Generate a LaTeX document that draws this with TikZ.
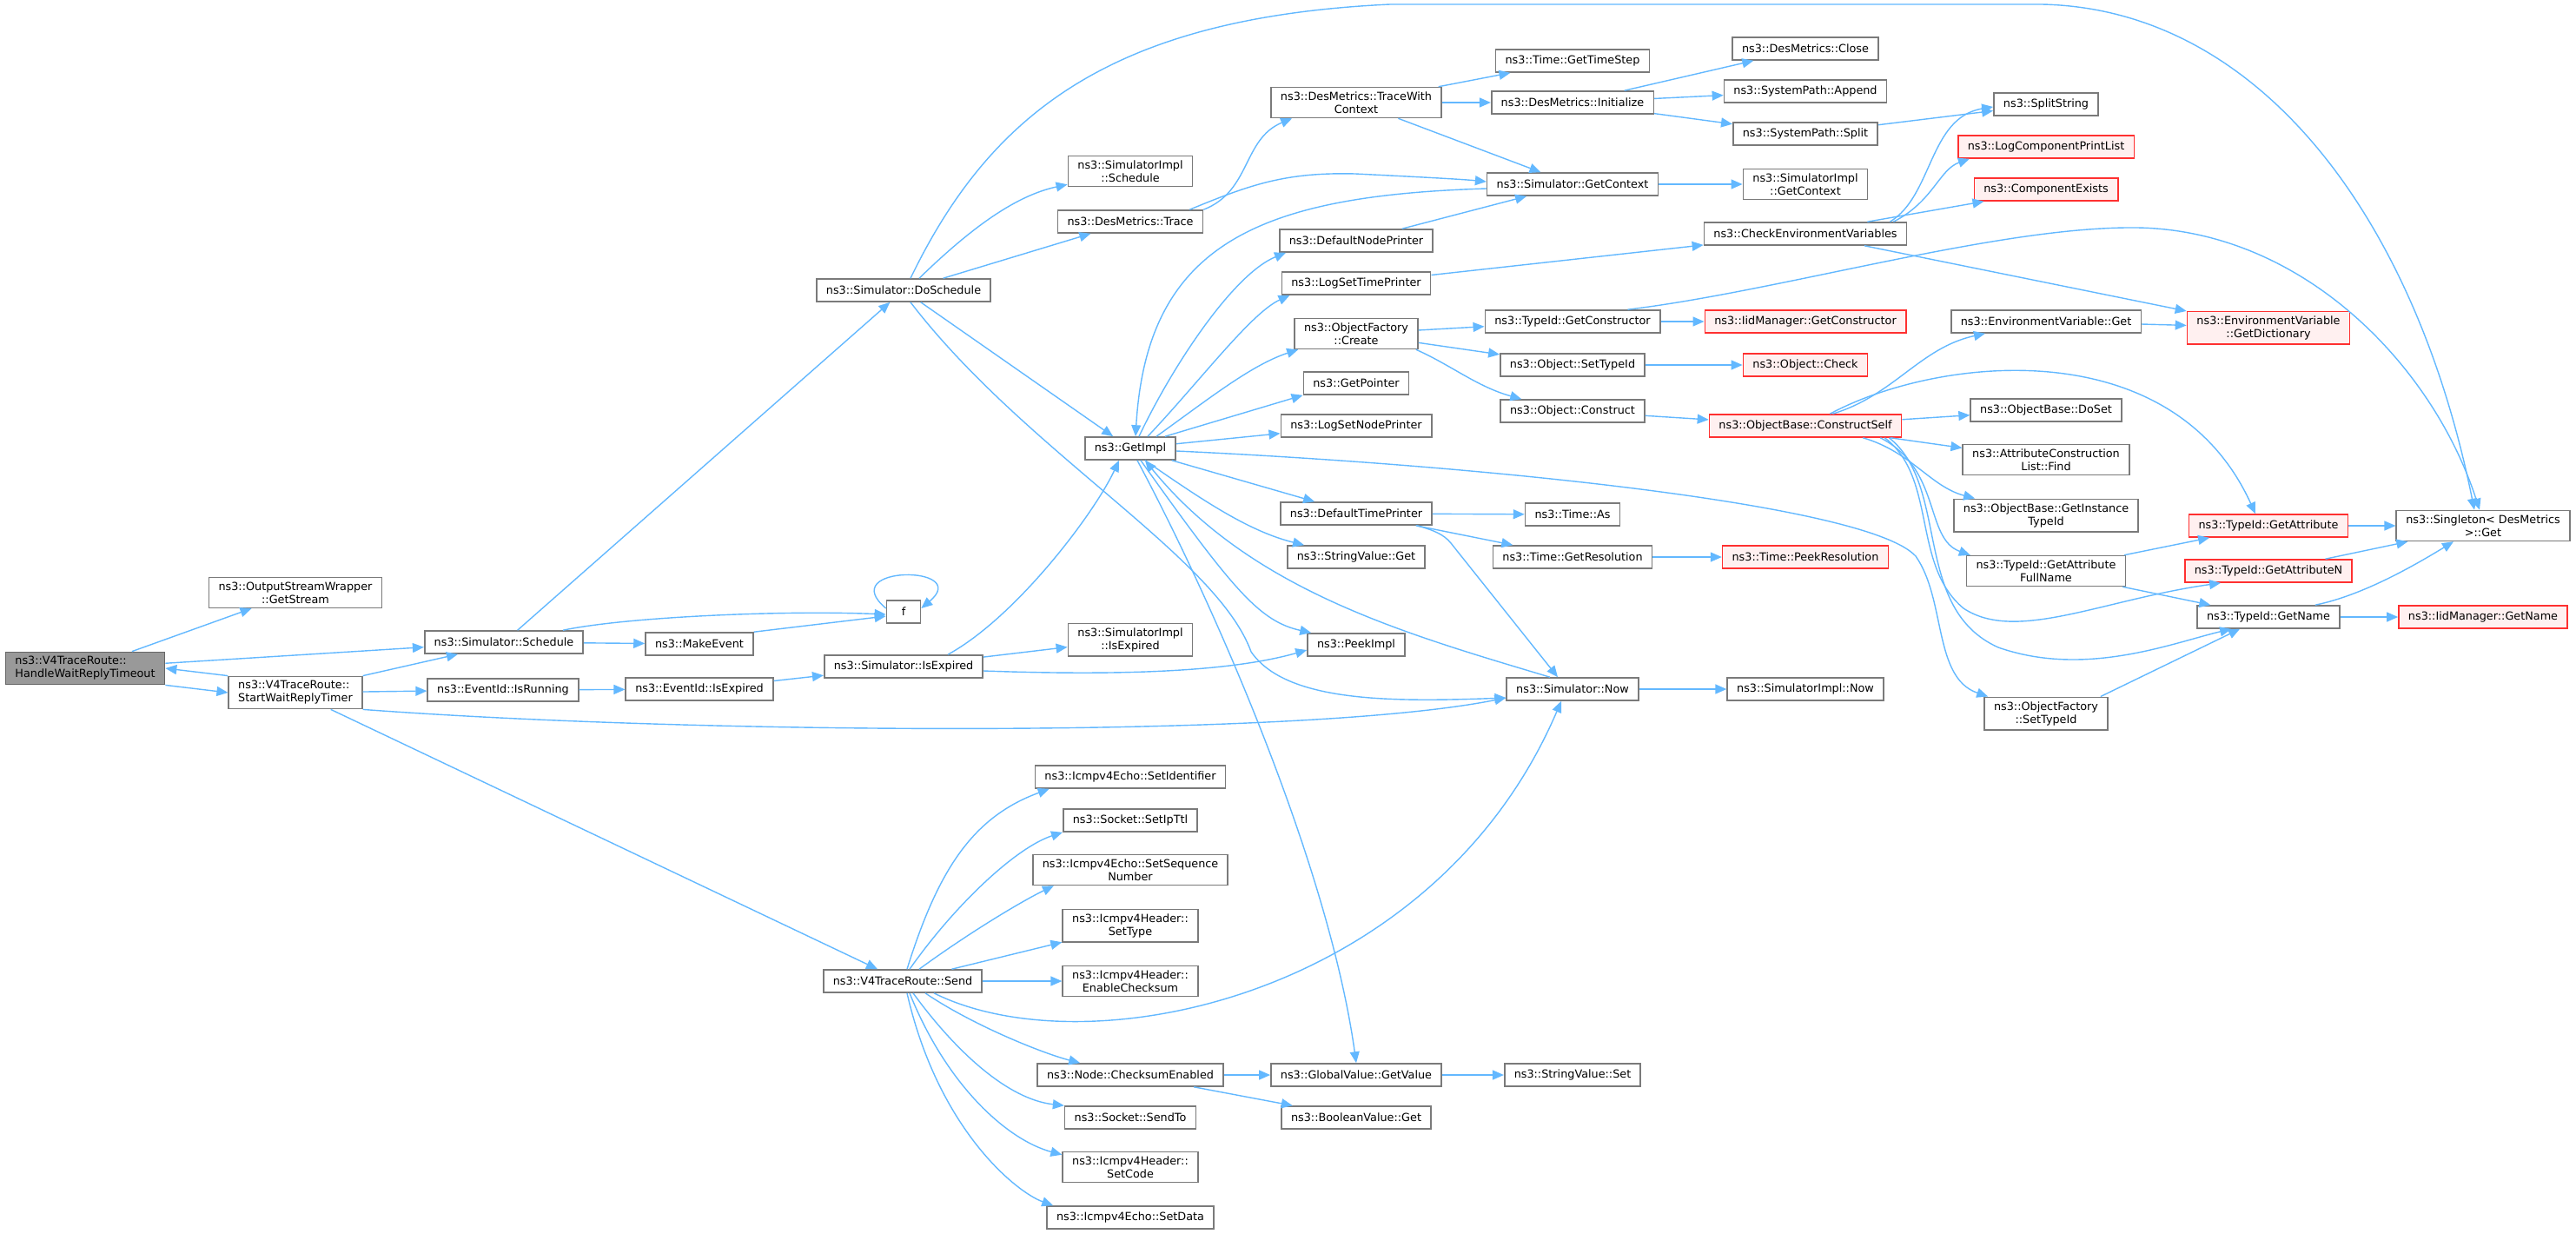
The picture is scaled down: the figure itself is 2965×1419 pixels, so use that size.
\documentclass[tikz,border=0pt]{standalone}
\usepackage{fontspec}
\usepackage{tikz}
\usetikzlibrary{arrows.meta, calc}
\newfontfamily\graphfont{DejaVu Sans}
\definecolor{edgeBlue}{HTML}{63B8FF}
\definecolor{boxGray}{HTML}{7A7A7A}
\definecolor{boxRed}{HTML}{FF3030}
\definecolor{redFill}{HTML}{FFF0F0}
\definecolor{startFill}{HTML}{999999}
\definecolor{startLine}{HTML}{666666}

\begin{document}
\begin{tikzpicture}[x=0.5pt, y=-0.5pt,
    func/.style={draw=boxGray, line width=0.8pt, fill=white, inner xsep=5.5pt, inner ysep=2.5pt,
      minimum height=13pt, align=center, font=\graphfont\fontsize{6.4}{7.5}\selectfont},
    funcRed/.style={func, draw=boxRed, fill=redFill},
    funcStart/.style={func, draw=startLine, fill=startFill, align=left},
    call/.style={draw=edgeBlue, line width=0.7pt, -{Triangle[length=6.5pt, width=5.5pt]}}]
    \useasboundingbox (0,0) rectangle (2965,1419);

    % Root and first callees
    \node[funcStart] (hwrt) at (98,769) {ns3::V4TraceRoute::\\HandleWaitReplyTimeout};
    \node[func] (osw) at (340,682) {ns3::OutputStreamWrapper\\::GetStream};
    \node[func, align=left] (swrt) at (340,797) {ns3::V4TraceRoute::\\StartWaitReplyTimer};
    \node[func] (sched) at (580,739) {ns3::Simulator::Schedule};
    \node[func] (isrun) at (579,794) {ns3::EventId::IsRunning};
    \node[func] (mkev) at (805,741) {ns3::MakeEvent};
    \node[func] (evexp) at (805,793) {ns3::EventId::IsExpired};

    % Simulator column
    \node[func] (dosch) at (1040,334) {ns3::Simulator::DoSchedule};
    \node[func, minimum width=19.5pt] (f) at (1040,704) {f};
    \node[func] (simexp) at (1040,767) {ns3::Simulator::IsExpired};
    \node[func] (send) at (1039,1129) {ns3::V4TraceRoute::Send};

    % GetImpl column
    \node[func] (impsch) at (1301,197) {ns3::SimulatorImpl\\::Schedule};
    \node[func] (trace) at (1301,255) {ns3::DesMetrics::Trace};
    \node[func] (getimpl) at (1301,516) {ns3::GetImpl};
    \node[func] (impexp) at (1301,736) {ns3::SimulatorImpl\\::IsExpired};
    \node[func] (setid) at (1301,894) {ns3::Icmpv4Echo::SetIdentifier};
    \node[func] (setttl) at (1301,944) {ns3::Socket::SetIpTtl};
    \node[func] (setseq) at (1301,1001) {ns3::Icmpv4Echo::SetSequence\\Number};
    \node[func] (settype) at (1301,1065) {ns3::Icmpv4Header::\\SetType};
    \node[func] (enchk) at (1301,1129) {ns3::Icmpv4Header::\\EnableChecksum};
    \node[func] (chken) at (1301,1237) {ns3::Node::ChecksumEnabled};
    \node[func] (sendto) at (1301,1286) {ns3::Socket::SendTo};
    \node[func] (setcode) at (1301,1343) {ns3::Icmpv4Header::\\SetCode};
    \node[func] (setdata) at (1301,1401) {ns3::Icmpv4Echo::SetData};

    % Printers and factory
    \node[func] (twc) at (1561,118) {ns3::DesMetrics::TraceWith\\Context};
    \node[func] (dnp) at (1561,277) {ns3::DefaultNodePrinter};
    \node[func] (lstp) at (1561,326) {ns3::LogSetTimePrinter};
    \node[func] (ofcreate) at (1561,384) {ns3::ObjectFactory\\::Create};
    \node[func] (getptr) at (1561,441) {ns3::GetPointer};
    \node[func] (lsnp) at (1561,490) {ns3::LogSetNodePrinter};
    \node[func] (dtp) at (1561,591) {ns3::DefaultTimePrinter};
    \node[func] (svget) at (1561,641) {ns3::StringValue::Get};
    \node[func] (peek) at (1561,742) {ns3::PeekImpl};
    \node[func] (gvget) at (1561,1237) {ns3::GlobalValue::GetValue};
    \node[func] (bvget) at (1561,1286) {ns3::BooleanValue::Get};

    \node[func] (gts) at (1810,70) {ns3::Time::GetTimeStep};
    \node[func] (dminit) at (1810,118) {ns3::DesMetrics::Initialize};
    \node[func] (simctx) at (1810,212) {ns3::Simulator::GetContext};
    \node[func] (tidctor) at (1810,370) {ns3::TypeId::GetConstructor};
    \node[func] (objsettid) at (1810,420) {ns3::Object::SetTypeId};
    \node[func] (objcons) at (1810,473) {ns3::Object::Construct};
    \node[func] (timeas) at (1810,592) {ns3::Time::As};
    \node[func] (getres) at (1810,641) {ns3::Time::GetResolution};
    \node[func] (simnow) at (1810,793) {ns3::Simulator::Now};
    \node[func] (svset) at (1810,1237) {ns3::StringValue::Set};

    \node[func] (dmclose) at (2078,56) {ns3::DesMetrics::Close};
    \node[func] (spappend) at (2078,105) {ns3::SystemPath::Append};
    \node[func] (spsplit) at (2078,154) {ns3::SystemPath::Split};
    \node[func] (implctx) at (2078,212) {ns3::SimulatorImpl\\::GetContext};
    \node[func] (checkenv) at (2078,269) {ns3::CheckEnvironmentVariables};
    \node[funcRed] (iidctor) at (2078,370) {ns3::IidManager::GetConstructor};
    \node[funcRed] (objcheck) at (2078,420) {ns3::Object::Check};
    \node[funcRed] (cself) at (2078,490) {ns3::ObjectBase::ConstructSelf};
    \node[funcRed] (peekres) at (2078,641) {ns3::Time::PeekResolution};
    \node[func] (implnow) at (2078,793) {ns3::SimulatorImpl::Now};

    \node[func] (splitstr) at (2355,120) {ns3::SplitString};
    \node[funcRed] (lcpl) at (2355,169) {ns3::LogComponentPrintList};
    \node[funcRed] (compex) at (2355,218) {ns3::ComponentExists};
    \node[func] (envget) at (2355,370) {ns3::EnvironmentVariable::Get};
    \node[func] (doset) at (2355,472) {ns3::ObjectBase::DoSet};
    \node[func] (acfind) at (2355,529) {ns3::AttributeConstruction\\List::Find};
    \node[func] (gitid) at (2355,593) {ns3::ObjectBase::GetInstance\\TypeId};
    \node[func] (gafn) at (2355,657) {ns3::TypeId::GetAttribute\\FullName};
    \node[func] (ofsettid) at (2355,821) {ns3::ObjectFactory\\::SetTypeId};

    \node[funcRed] (getdict) at (2611,377) {ns3::EnvironmentVariable\\::GetDictionary};
    \node[funcRed] (getattr) at (2611,605) {ns3::TypeId::GetAttribute};
    \node[funcRed] (getattrn) at (2611,657) {ns3::TypeId::GetAttributeN};
    \node[func] (getname) at (2611,710) {ns3::TypeId::GetName};
    \node[func] (single) at (2858,605) {ns3::Singleton< DesMetrics\\ >::Get};
    \node[funcRed] (iidname) at (2858,710) {ns3::IidManager::GetName};

    % Calls of the root
    \draw[call] (hwrt) -- (osw);
    \draw[call] (hwrt) -- (sched);
    \draw[call] (hwrt.south east) -- (swrt.west);
    \draw[call] (swrt.north west) -- (hwrt.east);
    \draw[call] (swrt.north east) -- ($(sched.south)+(-53,0)$);
    \draw[call] (swrt) -- (isrun);
    \draw[call] (swrt.south east) .. controls (800,845) and (1500,850) .. ($(simnow.west)+(0,10)$);
    \draw[call] (swrt) -- (send);

    % Schedule, events
    \draw[call] (sched) -- (dosch);
    \draw[call] ($(sched.north east)+(-24,0)$) .. controls (720,710) and (900,702) .. ($(f.west)+(0,3)$);
    \draw[call] (sched) -- (mkev);
    \draw[call] (mkev.north east) -- ($(f.west)+(0,5)$);
    \draw[call] ($(f.west)+(0,-4)$) .. controls (960,650) and (1120,650) .. ($(f.east)+(0,-4)$);
    \draw[call] (isrun) -- (evexp);
    \draw[call] (evexp) -- (simexp);
    \draw[call] ($(simexp.north)+(51,0)$) .. controls (1170,710) and (1260,590) .. ($(getimpl.south)+(-13,0)$);
    \draw[call] (simexp) -- (impexp);
    \draw[call] ($(simexp.east)+(0,5)$) .. controls (1300,778) and (1420,772) .. ($(peek.west)+(0,6)$);

    % DoSchedule
    \draw[call] ($(dosch.north)+(8,0)$) .. controls (1140,130) and (1280,20) .. (1600,5) -- (2350,5)
        .. controls (2600,10) and (2780,250) .. ($(single.north)+(-10,0)$);
    \draw[call] ($(dosch.north)+(18,0)$) .. controls (1120,260) and (1170,225) .. ($(impsch.south west)+(0,-3)$);
    \draw[call] (dosch) -- (trace);
    \draw[call] (dosch) -- (getimpl);
    \draw[call] ($(dosch.south)+(8,0)$) .. controls (1180,520) and (1400,640) .. (1440,750)
        .. controls (1480,808) and (1600,808) .. ($(simnow.west)+(0,10)$);

    % DesMetrics
    \draw[call] (trace.north east) .. controls (1440,220) and (1430,160) .. ($(twc.south west)+(25,0)$);
    \draw[call] ($(trace.north east)+(-16,0)$) .. controls (1440,212) and (1480,198) .. (1560,200)
        .. controls (1620,203) and (1680,206) .. ($(simctx.west)+(0,-3)$);
    \draw[call] (twc) -- (gts);
    \draw[call] (twc) -- (dminit);
    \draw[call] (twc) -- (simctx);
    \draw[call] (dminit) -- (dmclose);
    \draw[call] (dminit) -- (spappend);
    \draw[call] (dminit) -- (spsplit);
    \draw[call] (spsplit) -- (splitstr);

    % Environment
    \draw[call] ($(checkenv.north east)+(-20,0)$) .. controls (2225,225) and (2220,135) .. ($(splitstr.west)+(0,3)$);
    \draw[call] ($(checkenv.north east)+(-16,0)$) .. controls (2225,232) and (2232,195) .. ($(lcpl.south west)+(14,0)$);
    \draw[call] ($(checkenv.north east)+(-46,0)$) -- ($(compex.south west)+(12,0)$);
    \draw[call] (checkenv) -- (getdict);

    % GetContext, GetImpl
    \draw[call] (simctx) -- (implctx);
    \draw[call] ($(simctx.west)+(0,5)$) .. controls (1450,225) and (1320,280) .. ($(getimpl.north)+(6,0)$);
    \draw[call] ($(getimpl.north)+(10,0)$) .. controls (1350,420) and (1420,315) .. ($(dnp.south west)+(8,0)$);
    \draw[call] ($(getimpl.north)+(20,0)$) .. controls (1380,440) and (1440,360) .. ($(lstp.south west)+(10,0)$);
    \draw[call] ($(getimpl.north)+(30,0)$) .. controls (1390,460) and (1440,420) .. ($(ofcreate.south west)+(5,0)$);
    \draw[call] ($(getimpl.north east)+(-13,0)$) -- (getptr.south west);
    \draw[call] (getimpl) -- (lsnp);
    \draw[call] (getimpl) -- (dtp);
    \draw[call] ($(getimpl.south)+(17,0)$) .. controls (1390,580) and (1440,612) .. ($(svget.north west)+(20,0)$);
    \draw[call] ($(getimpl.south)+(12,0)$) .. controls (1420,680) and (1450,715) .. ($(peek.north west)+(5,0)$);
    \draw[call] ($(getimpl.south)+(8,0)$) .. controls (1400,700) and (1530,1000) .. (gvget.north);
    \draw[call] ($(getimpl.east)+(0,3)$) .. controls (1700,535) and (2150,580) .. (2205,640)
        .. controls (2240,690) and (2225,780) .. ($(ofsettid.north west)+(5,0)$);
    \draw[call] ($(simnow.north)+(-26,0)$) .. controls (1620,730) and (1440,680) .. ($(getimpl.south)+(17,0)$);

    % Time
    \draw[call] (dtp) -- (timeas);
    \draw[call] (dtp) -- (getres);
    \draw[call] ($(dtp.south east)+(-18,0)$) .. controls (1650,610) and (1662,615) .. (1670,625) -- ($(simnow.north)+(-17,0)$);
    \draw[call] (getres) -- (peekres);
    \draw[call] (simnow) -- (implnow);
    \draw[call] (lstp) -- (checkenv);
    \draw[call] (dnp) -- (simctx);

    % Objects
    \draw[call] (ofcreate) -- (tidctor);
    \draw[call] (ofcreate) -- (objsettid);
    \draw[call] ($(ofcreate.south east)+(-3,0)$) .. controls (1670,420) and (1700,445) .. ($(objcons.north west)+(25,0)$);
    \draw[call] (tidctor) -- (iidctor);
    \draw[call] ($(tidctor.north east)+(-38,0)$) .. controls (2050,335) and (2300,260) .. (2460,262)
        .. controls (2650,265) and (2800,420) .. ($(single.north)+(-4,0)$);
    \draw[call] (objsettid) -- (objcheck);
    \draw[call] (objcons) -- (cself);

    % ConstructSelf
    \draw[call] ($(cself.north east)+(-80,0)$) .. controls (2180,455) and (2210,400) .. ($(envget.south west)+(40,0)$);
    \draw[call] ($(cself.north east)+(-83,0)$) .. controls (2230,410) and (2500,380) .. ($(getattr.north)+(-15,0)$);
    \draw[call] (cself) -- (doset);
    \draw[call] (cself) -- (acfind);
    \draw[call] ($(cself.south east)+(-45,0)$) .. controls (2200,520) and (2222,560) .. ($(gitid.north west)+(25,0)$);
    \draw[call] ($(cself.south east)+(-25,0)$) .. controls (2235,540) and (2215,620) .. ($(gafn.north west)+(5,0)$);
    \draw[call] ($(cself.south east)+(-20,0)$) .. controls (2230,550) and (2200,650) .. (2260,700)
        .. controls (2320,740) and (2420,690) .. ($(getattrn.south west)+(42,0)$);
    \draw[call] ($(cself.south east)+(-15,0)$) .. controls (2245,560) and (2200,700) .. (2300,745)
        .. controls (2400,780) and (2500,740) .. ($(getname.south west)+(40,0)$);

    % TypeId
    \draw[call] (gafn) -- (getattr);
    \draw[call] (gafn) -- (getname);
    \draw[call] ($(ofsettid.north east)+(-9,0)$) -- ($(getname.south)+(-33,0)$);
    \draw[call] (getattr) -- (single);
    \draw[call] (getattrn) -- (single);
    \draw[call] ($(getname.north east)+(-29,0)$) .. controls (2720,685) and (2780,650) .. ($(single.south)+(-34,0)$);
    \draw[call] (getname) -- (iidname);
    \draw[call] (envget) -- (getdict);

    % Send
    \draw[call] ($(send.north)+(5,0)$) .. controls (1080,1000) and (1120,940) .. ($(setid.south west)+(17,0)$);
    \draw[call] ($(send.north)+(8,0)$) .. controls (1100,1040) and (1170,975) .. (setttl.south west);
    \draw[call] ($(send.north)+(19,0)$) .. controls (1120,1070) and (1180,1035) .. ($(setseq.south west)+(25,0)$);
    \draw[call] (send) -- (settype);
    \draw[call] (send) -- (enchk);
    \draw[call] ($(send.south)+(36,0)$) .. controls (1250,1230) and (1650,1150) .. ($(simnow.south)+(-13,0)$);
    \draw[call] ($(send.south)+(26,0)$) .. controls (1120,1180) and (1200,1212) .. ($(chken.north west)+(50,0)$);
    \draw[call] ($(send.south)+(12,0)$) .. controls (1100,1210) and (1160,1265) .. (sendto.north west);
    \draw[call] ($(send.south)+(8,0)$) .. controls (1090,1250) and (1160,1312) .. ($(setcode.north west)+(0,4)$);
    \draw[call] ($(send.south)+(5,0)$) .. controls (1080,1300) and (1170,1372) .. ($(setdata.north west)+(8,0)$);
    \draw[call] (chken) -- (gvget);
    \draw[call] (chken) -- (bvget);
    \draw[call] (gvget) -- (svset);
\end{tikzpicture}
\end{document}
